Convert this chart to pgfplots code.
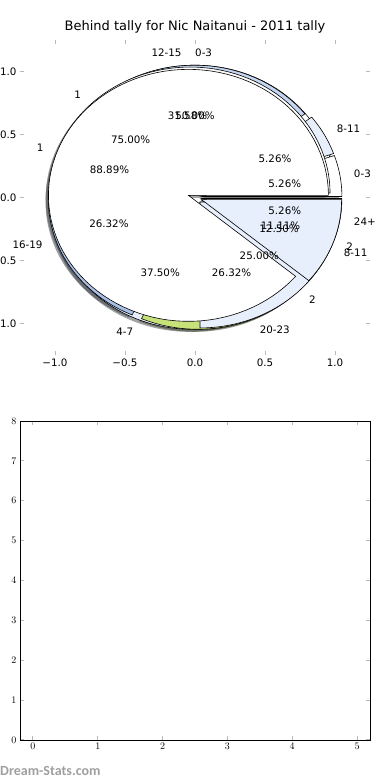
\documentclass[border=0pt]{standalone}
\usepackage{fontspec}
\setmainfont{DejaVu Sans}
\newfontfamily\wmfont{Carlito}
\usepackage{pgfplots}
\pgfplotsset{compat=1.18}

\definecolor{lb}{HTML}{E8EFFC}
\definecolor{mb}{HTML}{C4D6F2}
\definecolor{db}{HTML}{A9C0E6}
\definecolor{gr}{HTML}{C8E27A}

% pies: count/colour/label
\def\pieA{1/white/0-3, 1/lb/8-11, 6/mb/12-15, 5/db/16-19, 5/gr/20-23, 1/white/24+}
\def\pieB{4/white/0-3, 3/lb/4-7, 1/mb/8-11}
\def\pieC{3/white/1, 1/lb/2}
\def\pieD{8/white/1, 1/lb/2}

\newcommand\pieslices[2]{%
  \gdef\tot{0}%
  \foreach \v/\c/\l in #1 {\pgfmathsetmacro\t{\tot+\v}\xdef\tot{\t}}%
  \gdef\cum{0}%
  \foreach \v/\c/\l in #1 {%
    \pgfmathsetmacro\a{\cum}%
    \pgfmathsetmacro\b{\cum+360*\v/\tot}%
    \pgfmathsetmacro\m{(\a+\b)/2}%
    \pgfmathsetmacro\cx{0.05*cos(\m)}%
    \pgfmathsetmacro\cy{0.05*sin(\m)}%
    \ifcase#2
      \pgfmathsetmacro\sx{\cx-0.02}\pgfmathsetmacro\sy{\cy-0.02}%
      \edef\tmp{\noexpand\addplot[draw=none, fill=\c!30!black, fill opacity=0.5, domain=\a:\b, samples=100] ({\sx+cos(x)},{\sy+sin(x)}) -- (axis cs:\sx,\sy) -- cycle;}\tmp
    \or
      \edef\tmp{\noexpand\addplot[draw=black, line width=0.6pt, fill=\c, domain=\a:\b, samples=100] ({\cx+cos(x)},{\cy+sin(x)}) -- (axis cs:\cx,\cy) -- cycle;}\tmp
    \or
      \pgfmathsetmacro\lx{\cx+1.1*cos(\m)}%
      \pgfmathsetmacro\ly{\cy+1.1*sin(\m)}%
      \pgfmathsetmacro\px{\cx+0.6*cos(\m)}%
      \pgfmathsetmacro\py{\cy+0.6*sin(\m)}%
      \pgfmathsetmacro\p{100*\v/\tot}%
      \pgfmathsetmacro\cm{cos(\m)}%
      \ifdim\cm pt<-0.0001pt\def\anc{east}\else\def\anc{west}\fi
      \edef\tmp{\noexpand\node[anchor=\anc, inner sep=0pt] at (axis cs:\lx,\ly) {\l};
        \noexpand\node[inner sep=0pt] at (axis cs:\px,\py) {\noexpand\pgfmathprintnumber[fixed,fixed zerofill,precision=2,assume math mode=true]{\p}\noexpand\%};}\tmp
    \fi
    \xdef\cum{\b}%
  }%
}

\begin{document}
\begin{tikzpicture}
\useasboundingbox (0,0) rectangle (390pt,780pt);
\pgfplotsset{every axis/.append style={font=\fontsize{10.3}{12}\selectfont},
  tick style={gray!55, line width=1pt}, major tick length=4pt}
\begin{axis}[at={(20pt,425pt)}, anchor=south west,
  width=350pt, height=315pt, scale only axis, clip=false,
  xmin=-1.25, xmax=1.25, ymin=-1.25, ymax=1.25,
  axis line style={draw=none},
  xtick={-1,-0.5,0,0.5,1}, xticklabels={−1.0,−0.5,0.0,0.5,1.0},
  ytick={-1,-0.5,0,0.5,1}, yticklabels={−1.0,−0.5,0.0,0.5,1.0},
  title={Behind tally for Nic Naitanui - 2011 tally},
  title style={font=\fontsize{13}{15}\selectfont, yshift=-3pt}]
\pieslices{\pieB}{0}
\pieslices{\pieA}{0}
\pieslices{\pieC}{0}
\pieslices{\pieD}{0}
\pieslices{\pieB}{1}
\pieslices{\pieA}{1}
\pieslices{\pieC}{1}
\pieslices{\pieD}{1}
\pieslices{\pieA}{2}
\pieslices{\pieB}{2}
\pieslices{\pieC}{2}
\pieslices{\pieD}{2}
\end{axis}
\begin{axis}[at={(20pt,40pt)}, anchor=south west,
  width=350pt, height=319pt, scale only axis,
  xmin=-0.2, xmax=5.2, ymin=0, ymax=8,
  xtick={0,1,2,3,4,5}, ytick={0,1,2,3,4,5,6,7,8},
  axis line style={black, line width=0.8pt}]
\end{axis}
\node[anchor=base west, inner sep=0pt, text=gray!75, font=\wmfont\bfseries\fontsize{14}{16}\selectfont] at (0pt,5pt) {Dream-Stats.com};
\end{tikzpicture}
\end{document}
